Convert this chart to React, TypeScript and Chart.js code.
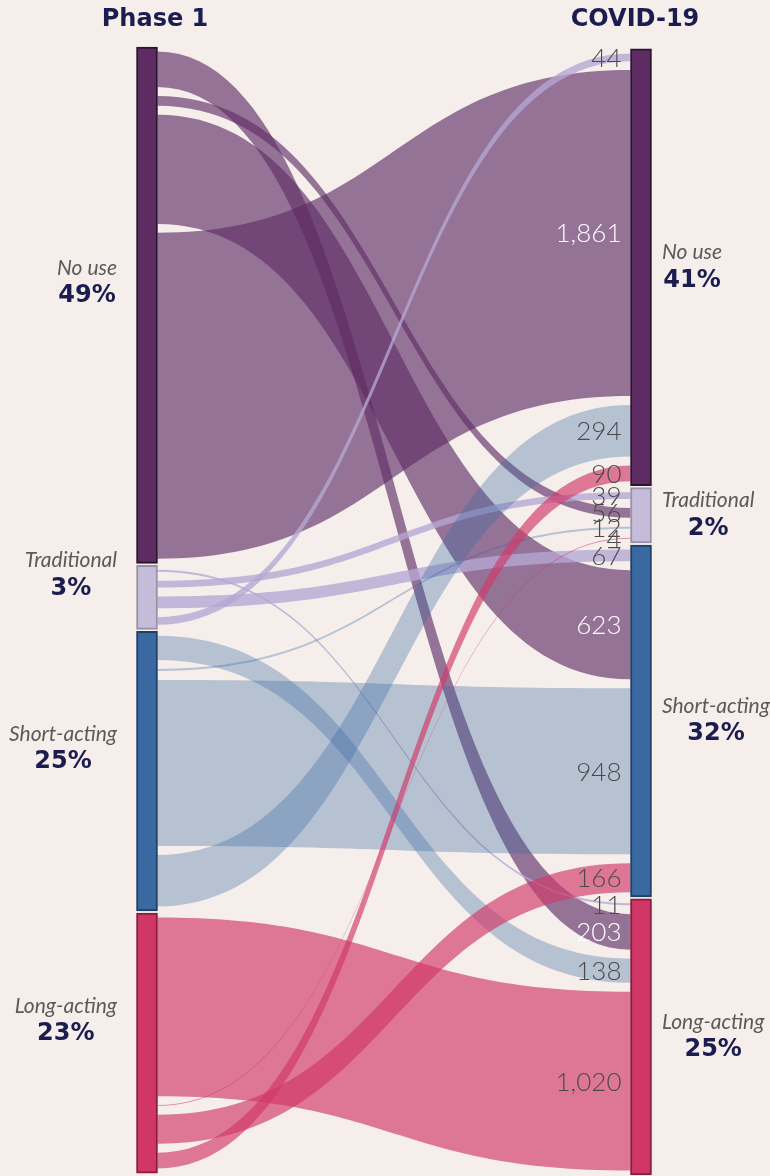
import { useEffect, useRef } from "react";
import { Chart, registerables } from "chart.js";

Chart.register(...registerables);

// ---------------- data ----------------
const columns = ["Phase 1", "COVID-19"];
const categories = ["No use", "Traditional", "Short-acting", "Long-acting"];
// flows from a Phase 1 category to each COVID-19 category (same order as categories)
const fromNoUse = [1861, 56, 623, 203];
const fromTraditional = [44, 39, 67, 11];
const fromShortActing = [294, 12, 948, 138];
const fromLongActing = [90, 4, 166, 1020];
const flows = [fromNoUse, fromTraditional, fromShortActing, fromLongActing];
// order in which links leave / enter a node (indices into categories)
const outgoingOrder = [3, 1, 2, 0];
const incomingOrder = [1, 0, 2, 3];

// ---------------- styles ----------------
const BG = "#F5EEEB";
const NAVY = "#1B1D50";
const nodeColors = ["#5E2B63", "#C5BCDA", "#3A68A1", "#D03767"];
const nodeBorders = ["#2A1430", "#9B91A6", "#1E3F66", "#8A1B40"];
const linkColors = [
  "rgba(94,42,99,0.63)",
  "rgba(179,166,212,0.78)",
  "rgba(56,103,160,0.33)",
  "rgba(209,55,103,0.65)",
];
const FLOW_GAP = 51; // in value units
const NODE_PAD = 26;
const NODE_GAP = 11;
const RIGHT_SHIFT = 11;

function computeLayout() {
  const n = categories.length;
  const srcOff = flows.map((r) => r.map(() => 0));
  const tgtOff = flows.map((r) => r.map(() => 0));
  const left: [number, number][] = [];
  const right: [number, number][] = [];
  let c = 0;
  for (let i = 0; i < n; i++) {
    const start = c;
    c += NODE_PAD;
    outgoingOrder.forEach((j, k) => {
      srcOff[i][j] = c;
      c += flows[i][j];
      if (k < n - 1) c += FLOW_GAP;
    });
    c += NODE_PAD;
    left.push([start, c]);
    c += NODE_GAP;
  }
  const totalLeft = c - NODE_GAP;
  c = RIGHT_SHIFT;
  for (let j = 0; j < n; j++) {
    const start = c;
    c += NODE_PAD;
    incomingOrder.forEach((i, k) => {
      tgtOff[i][j] = c;
      c += flows[i][j];
      if (k < n - 1) c += FLOW_GAP;
    });
    c += NODE_PAD;
    right.push([start, c]);
    c += NODE_GAP;
  }
  const totalRight = c - NODE_GAP;
  const outTotals = flows.map((r) => r.reduce((a, b) => a + b, 0));
  const inTotals = categories.map((_, j) => flows.reduce((a, r) => a + r[j], 0));
  const grand = outTotals.reduce((a, b) => a + b, 0);
  return {
    srcOff,
    tgtOff,
    left,
    right,
    total: Math.max(totalLeft, totalRight),
    outPct: outTotals.map((v) => Math.round((v / grand) * 100) + "%"),
    inPct: inTotals.map((v) => Math.round((v / grand) * 100) + "%"),
  };
}

export default function App() {
  const ref = useRef<HTMLCanvasElement>(null);

  useEffect(() => {
    const L = computeLayout();
    const sankeyPlugin = {
      id: "sankeyLinks",
      beforeDatasetsDraw(chart: any) {
        const ctx = chart.ctx;
        const xs = chart.scales.x;
        const ys = chart.scales.y;
        const half = (chart.getDatasetMeta(0).data[0] as any).width / 2;
        const x0 = xs.getPixelForValue(0) + half;
        const x1 = xs.getPixelForValue(1) - half;
        const xm = (x0 + x1) / 2;
        ctx.save();
        flows.forEach((row, i) => {
          row.forEach((v, j) => {
            const a0 = ys.getPixelForValue(L.srcOff[i][j]);
            const a1 = ys.getPixelForValue(L.srcOff[i][j] + v);
            const b0 = ys.getPixelForValue(L.tgtOff[i][j]);
            const b1 = ys.getPixelForValue(L.tgtOff[i][j] + v);
            ctx.beginPath();
            ctx.moveTo(x0, a0);
            ctx.bezierCurveTo(xm, a0, xm, b0, x1, b0);
            ctx.lineTo(x1, b1);
            ctx.bezierCurveTo(xm, b1, xm, a1, x0, a1);
            ctx.closePath();
            ctx.fillStyle = linkColors[i];
            ctx.fill();
          });
        });
        ctx.restore();
      },
      afterDatasetsDraw(chart: any) {
        const ctx = chart.ctx;
        const xs = chart.scales.x;
        const ys = chart.scales.y;
        const half = (chart.getDatasetMeta(0).data[0] as any).width / 2;
        const xl = xs.getPixelForValue(0);
        const xr = xs.getPixelForValue(1);
        ctx.save();
        // value labels at target side
        ctx.textAlign = "right";
        ctx.textBaseline = "middle";
        ctx.font = "300 26px Lato, 'Open Sans', sans-serif";
        flows.forEach((row, i) => {
          row.forEach((v, j) => {
            const b0 = ys.getPixelForValue(L.tgtOff[i][j]);
            const b1 = ys.getPixelForValue(L.tgtOff[i][j] + v);
            ctx.fillStyle = i === 0 && v >= 100 ? "#FFFFFF" : "#4A4A4A";
            ctx.fillText(v.toLocaleString("en-US"), xr - half - 9, (b0 + b1) / 2 + 1);
          });
        });
        // column headers
        ctx.textAlign = "center";
        ctx.fillStyle = NAVY;
        ctx.font = "bold 24px 'DejaVu Sans', sans-serif";
        ctx.fillText(columns[0], xl + 8, 20);
        ctx.fillText(columns[1], xr - 6, 20);
        // node labels
        const nameFont = "italic 21px Lato, sans-serif";
        const pctFont = "bold 24px 'DejaVu Sans', sans-serif";
        const drawNodeLabel = (edge: number, side: "left" | "right", mid: number, dy: number, name: string, pct: string) => {
          ctx.font = nameFont;
          const w = ctx.measureText(name).width;
          const cx = side === "left" ? edge - w / 2 : edge + w / 2;
          ctx.textAlign = "center";
          ctx.fillStyle = "#5A5A5A";
          ctx.fillText(name, cx, mid + dy);
          ctx.fillStyle = NAVY;
          ctx.font = pctFont;
          ctx.fillText(pct, cx, mid + dy + 28);
        };
        categories.forEach((name, i) => {
          const lm = (ys.getPixelForValue(L.left[i][0]) + ys.getPixelForValue(L.left[i][1])) / 2;
          const rm = (ys.getPixelForValue(L.right[i][0]) + ys.getPixelForValue(L.right[i][1])) / 2;
          drawNodeLabel(xl - 30, "left", lm, -37, name, L.outPct[i]);
          drawNodeLabel(xr + 21, "right", rm, -15, name, L.inPct[i]);
        });
        ctx.restore();
      },
    };

    const chart = new Chart(ref.current as HTMLCanvasElement, {
      type: "bar",
      data: {
        labels: columns,
        datasets: categories.map((name, i) => ({
          label: name,
          data: [L.left[i], L.right[i]] as any,
          backgroundColor: nodeColors[i],
          borderColor: nodeBorders[i],
          borderWidth: 2,
          borderSkipped: false,
          grouped: false,
          barThickness: 21,
          clip: false,
        })) as any,
      },
      options: {
        responsive: false,
        animation: false,
        devicePixelRatio: 1,
        layout: { padding: { left: 147, right: 129, top: 47, bottom: 1 } },
        scales: {
          x: { display: false, offset: false },
          y: { display: false, reverse: true, min: 0, max: L.total },
        },
        plugins: { legend: { display: false }, tooltip: { enabled: false } },
      } as any,
      plugins: [sankeyPlugin],
    });
    return () => chart.destroy();
  }, []);

  return (
    <div
      style={{
        position: "absolute",
        left: 0,
        top: 0,
        width: 770,
        height: 1176,
        background: BG,
      }}
    >
      <canvas ref={ref} width={770} height={1176} style={{ display: "block" }} />
    </div>
  );
}
